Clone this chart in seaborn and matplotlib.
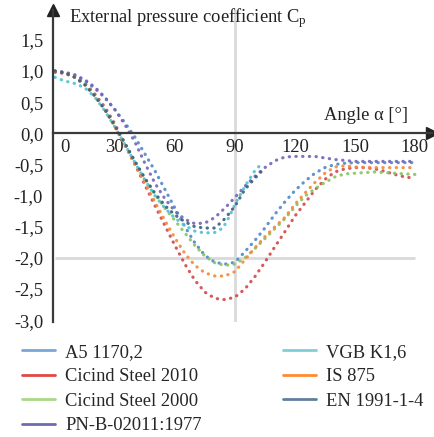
import numpy as np
import pandas as pd
import matplotlib
matplotlib.use("Agg")
import matplotlib.pyplot as plt
import matplotlib.transforms as mtransforms
from matplotlib.lines import Line2D
import seaborn as sns

# --- data ---
standards = ["A5 1170,2", "Cicind Steel 2010", "Cicind Steel 2000", "PN-B-02011:1977",
             "VGB K1,6", "IS 875", "EN 1991-1-4"]
colors = ["#4f88c8", "#d24848", "#86c463", "#7663b6", "#4cc2d2", "#f5883a", "#3a5f82"]
legend_colors = ["#7aa6d8", "#e04848", "#a8d88a", "#6f6bb0", "#7ccfd8", "#ff8c30", "#5f7f9f"]

a5_ang = [0, 5, 10, 15, 20, 25, 30, 35, 40, 45, 50, 55, 60, 65, 70, 75, 80, 85, 90, 95, 100,
          105, 110, 115, 120, 125, 130, 135, 140, 145, 150, 160, 170, 180]
a5_cp = [1.0, 0.98, 0.93, 0.84, 0.72, 0.57, 0.38, 0.17, -0.06, -0.33, -0.6, -0.9, -1.2, -1.5,
         -1.76, -1.96, -2.07, -2.1, -2.07, -1.9, -1.72, -1.52, -1.3, -1.1, -0.92, -0.77, -0.64,
         -0.55, -0.5, -0.48, -0.47, -0.47, -0.47, -0.47]

c2010_ang = [0, 5, 10, 15, 20, 25, 30, 35, 40, 45, 50, 55, 60, 65, 70, 75, 80, 85, 90, 95, 100,
             105, 110, 115, 120, 125, 130, 135, 140, 145, 150, 155, 160, 165, 170, 175, 180]
c2010_cp = [0.98, 0.96, 0.9, 0.8, 0.63, 0.42, 0.15, -0.17, -0.5, -0.83, -1.16, -1.48, -1.8, -2.1,
            -2.36, -2.55, -2.65, -2.67, -2.63, -2.5, -2.3, -2.07, -1.82, -1.58, -1.33, -1.12,
            -0.91, -0.74, -0.62, -0.57, -0.55, -0.55, -0.57, -0.61, -0.66, -0.7, -0.72]

c2000_ang = [0, 5, 10, 15, 20, 25, 30, 35, 40, 45, 50, 55, 60, 65, 70, 75, 80, 85, 90, 95, 100,
             105, 110, 115, 120, 125, 130, 135, 140, 145, 150, 160, 170, 180]
c2000_cp = [1.0, 0.97, 0.9, 0.78, 0.6, 0.38, 0.12, -0.16, -0.45, -0.73, -0.98, -1.2, -1.4, -1.6,
            -1.8, -1.97, -2.08, -2.12, -2.1, -2.0, -1.85, -1.69, -1.53, -1.37, -1.18, -1.01,
            -0.89, -0.79, -0.7, -0.65, -0.64, -0.62, -0.64, -0.66]

pnb_ang = [0, 5, 10, 15, 20, 25, 30, 35, 40, 45, 50, 55, 60, 65, 70, 75, 80, 85, 90, 95, 100,
           105, 110, 115, 120, 130, 140, 150, 160, 170, 180]
pnb_cp = [1.0, 0.98, 0.94, 0.86, 0.74, 0.58, 0.38, 0.14, -0.14, -0.48, -0.8, -1.05, -1.25, -1.38,
          -1.45, -1.44, -1.35, -1.2, -1.03, -0.85, -0.69, -0.55, -0.44, -0.38, -0.37, -0.37,
          -0.42, -0.45, -0.45, -0.45, -0.45]

vgb_ang = [0, 5, 10, 15, 20, 25, 30, 35, 40, 45, 50, 55, 60, 65, 70, 75, 80, 84, 87, 91, 96, 100, 103]
vgb_cp = [0.9, 0.84, 0.8, 0.73, 0.58, 0.36, 0.1, -0.18, -0.47, -0.75, -1.0, -1.2, -1.36, -1.48,
          -1.57, -1.6, -1.59, -1.52, -1.35, -1.08, -0.8, -0.6, -0.5]

is875_ang = [0, 5, 10, 15, 20, 25, 30, 35, 40, 45, 50, 55, 60, 65, 70, 75, 80, 85, 90, 95, 100,
             105, 110, 115, 120, 125, 130, 135, 140, 145, 150, 160, 170, 180]
is875_cp = [1.0, 0.97, 0.9, 0.78, 0.6, 0.38, 0.1, -0.2, -0.5, -0.8, -1.1, -1.4, -1.68, -1.93,
            -2.12, -2.24, -2.29, -2.29, -2.22, -2.03, -1.84, -1.66, -1.5, -1.35, -1.14, -0.96,
            -0.79, -0.64, -0.54, -0.52, -0.54, -0.55, -0.55, -0.55]

en_ang = [0, 5, 10, 15, 20, 25, 30, 35, 40, 45, 50, 55, 60, 65, 70, 75, 80, 85, 90, 95, 100, 103]
en_cp = [1.0, 0.97, 0.9, 0.78, 0.6, 0.38, 0.12, -0.16, -0.45, -0.72, -0.96, -1.16, -1.31, -1.42,
         -1.5, -1.52, -1.52, -1.37, -1.17, -0.9, -0.72, -0.62]

x_ticks = [0, 30, 60, 90, 120, 150, 180]
y_ticks = [1.5, 1.0, 0.5, 0.0, -0.5, -1.0, -1.5, -2.0, -2.5, -3.0]
y_tick_labels = ["1,5", "1,0", "0,5", "0,0", "-0,5", "-1,0", "-1,5", "-2,0", "-2,5", "-3,0"]

series = [(a5_ang, a5_cp), (c2010_ang, c2010_cp), (c2000_ang, c2000_cp), (pnb_ang, pnb_cp),
          (vgb_ang, vgb_cp), (is875_ang, is875_cp), (en_ang, en_cp)]

sns.set_style("white")
plt.rcParams["font.family"] = ["Liberation Serif", "DejaVu Serif"]
plt.rcParams["mathtext.fontset"] = "custom"
plt.rcParams["mathtext.rm"] = "Liberation Serif"
plt.rcParams["mathtext.it"] = "Liberation Serif:italic"

FS = 13.3

fig = plt.figure(figsize=(4.34, 4.37), dpi=100)
ax = fig.add_axes([0.122, 0.263, 0.873, 0.714])

# light reference lines
ax.axvline(90, color="#d9d9d9", lw=2, zorder=0)
ax.hlines(-2.0, 0, 180, color="#d9d9d9", lw=2, zorder=0)

for name, col, (ang, cp) in zip(standards, colors, series):
    df = pd.DataFrame({"angle": ang, "cp": cp})
    sns.lineplot(data=df, x="angle", y="cp", color=col, ax=ax, legend=False,
                 linestyle=(0, (0.1, 2.0)), dash_capstyle="round", lw=2.3, alpha=0.9)

ax.set_xlim(-1, 188.5)
ax.set_ylim(-3.03, 1.98)

ax.spines["top"].set_visible(False)
ax.spines["right"].set_visible(False)
ax.spines["bottom"].set_position(("data", 0))
for s in ["left", "bottom"]:
    ax.spines[s].set_color("#3a3a3a")
    ax.spines[s].set_linewidth(1.6)

ax.set_xticks(x_ticks)
ax.set_xticklabels([str(t) for t in x_ticks])
ax.set_yticks(y_ticks)
ax.set_yticklabels(y_tick_labels)
ax.tick_params(axis="both", length=0, labelsize=FS, colors="#222222")
ax.tick_params(axis="x", pad=4)
ax.tick_params(axis="y", pad=7)
ax.set_xlabel("")
ax.set_ylabel("")

# shift the "0" label away from the vertical axis
lab0 = ax.get_xticklabels()[0]
lab0.set_transform(lab0.get_transform() + mtransforms.ScaledTranslation(10 / 100, 0, fig.dpi_scale_trans))

# arrow heads
ax.plot(1, 0, ">", color="#222222", ms=9, transform=ax.get_yaxis_transform(), clip_on=False)
ax.plot(0, 1, "^", color="#222222", ms=9, transform=ax.transAxes, clip_on=False)

ax.text(7, 1.85, "External pressure coefficient C$_\\mathregular{p}$", fontsize=FS,
        ha="left", va="center", color="#222222")
ax.text(176.5, 0.29, "Angle α [°]", fontsize=FS, ha="right", va="center", color="#222222")

handles = [Line2D([0], [0], color=c, lw=2) for c in legend_colors]
fig.legend(handles, standards, loc="upper left", bbox_to_anchor=(0.05, 0.213), ncol=2,
           frameon=False, fontsize=FS, handlelength=1.8, handletextpad=0.55,
           columnspacing=4.4, labelspacing=0.4, borderpad=0, borderaxespad=0)

plt.savefig("out.png", dpi=100)
